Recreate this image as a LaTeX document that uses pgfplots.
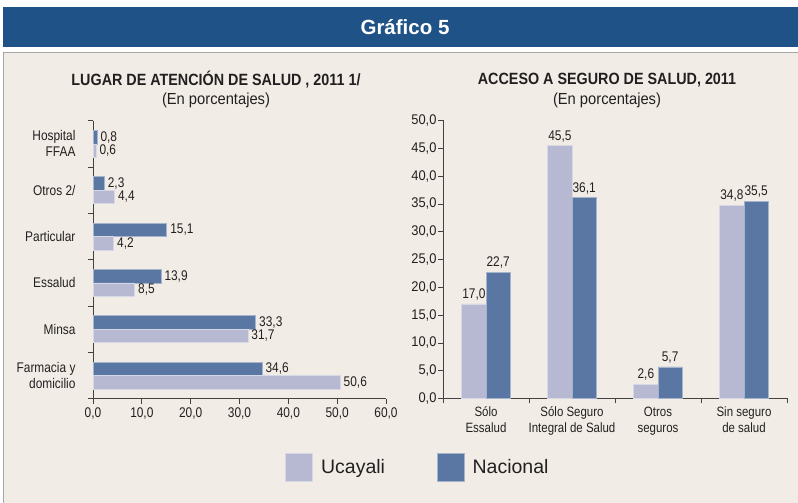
\documentclass[border=0pt]{standalone}
\usepackage{pgfplots}
\pgfplotsset{compat=1.18}
\usepackage{fontspec}
\setmainfont{Liberation Sans}
\newfontfamily\narrow{Liberation Sans}[FakeStretch=0.85]
\newfontfamily\narrowt{Liberation Sans}[FakeStretch=0.88]
\newfontfamily\narrows{Liberation Sans}[FakeStretch=0.92]
\definecolor{uca}{HTML}{B7B8D1}
\definecolor{nac}{HTML}{5A77A4}
\definecolor{hdr}{HTML}{1F5286}
\definecolor{bg}{HTML}{F1EDE6}
\definecolor{txt}{HTML}{231F20}
\pgfkeys{/pgf/number format/.cd, use comma, fixed, fixed zerofill, precision=1, assume math mode=true}
\pgfplotsset{
  common/.style={
    scale only axis,
    tick label style={font=\narrow\fontsize{14}{16}\selectfont, text=txt},
    axis line style={draw=txt!85, line width=0.7pt},
    tick style={draw=txt!85, line width=0.7pt},
    tick align=outside,
    major tick length=5pt, minor tick length=5pt,
    nodes near coords,
    every node near coord/.append style={font=\narrow\fontsize{14}{16}\selectfont, text=txt},
  }
}
\begin{document}
\begin{tikzpicture}
\path[use as bounding box] (0pt,0pt) rectangle (798pt,503pt);
\fill[white] (0pt,0pt) rectangle (798pt,503pt);
\fill[hdr] (3pt,455.5pt) rectangle (798pt,496pt);
\node[white, font=\bfseries\fontsize{20.5}{24}\selectfont] at (405pt,476pt) {Gráfico 5};
\fill[bg] (3pt,0pt) rectangle (798pt,451pt);
\draw[black!35, line width=0.6pt] (3.5pt,0pt) -- (3.5pt,451pt) -- (798pt,451pt);
\node[font=\narrowt\bfseries\fontsize{16.3}{19}\selectfont, text=txt] at (216pt,423pt) {LUGAR DE ATENCIÓN DE SALUD , 2011 1/};
\node[font=\narrows\fontsize{16}{18}\selectfont, text=txt] at (216pt,403pt) {(En porcentajes)};
\node[font=\narrowt\bfseries\fontsize{16.3}{19}\selectfont, text=txt] at (607pt,423pt) {ACCESO A SEGURO DE SALUD, 2011};
\node[font=\narrows\fontsize{16}{18}\selectfont, text=txt] at (607pt,403pt) {(En porcentajes)};

\begin{axis}[common,
  at={(93pt,104.3pt)}, anchor=south west, width=293pt, height=278pt,
  xbar, bar width=13.5pt, point meta=x,
  xmin=0, xmax=60, xtick={0,10,...,60},
  ymin=-0.5, ymax=5.5, ytick={0,...,5},
  yticklabels={{Farmacia y\\domicilio},Minsa,Essalud,Particular,{Otros 2/},{Hospital\\FFAA}},
  yticklabel style={align=right, xshift=-9pt},
  major y tick style={draw=none},
  minor ytick={-0.5,0.5,1.5,2.5,3.5,4.5,5.5},
  axis x line*=bottom, axis y line*=left,
]
\addplot[fill=nac, draw=nac!55!white, line width=0.6pt, bar shift=6.75pt] coordinates {(34.6,0) (33.3,1) (13.9,2) (15.1,3) (2.3,4) (0.8,5)};
\addplot[fill=uca, draw=uca!55!white, line width=0.6pt, bar shift=-6.75pt] coordinates {(50.6,0) (31.7,1) (8.5,2) (4.2,3) (4.4,4) (0.6,5)};
\end{axis}

\begin{axis}[common,
  at={(443pt,104.5pt)}, anchor=south west, width=344pt, height=278pt,
  ybar, bar width=24.3pt,
  ymin=0, ymax=50, ytick={0,5,...,50},
  yticklabel style={xshift=2pt, font=\narrows\fontsize{14}{16}\selectfont},
  xmin=-0.5, xmax=3.5, xtick={0,1,2,3},
  xticklabels={{Sólo\\Essalud},{Sólo Seguro\\Integral de Salud},{Otros\\seguros},{Sin seguro\\de salud}},
  xticklabel style={align=center, font=\narrow\fontsize{13.5}{16}\selectfont},
  major x tick style={draw=none},
  minor xtick={-0.5,0.5,1.5,2.5,3.5},
  axis x line*=bottom, axis y line*=left,
  legend style={at={(-0.0727,-0.2457)}, anchor=center, legend columns=2, draw=none, fill=none,
    font=\fontsize{19.5}{22}\selectfont, text=txt,
    /tikz/every odd column/.append style={column sep=6pt},
    /tikz/every even column/.append style={column sep=50pt}},
  legend image code/.code={\fill[#1] (0pt,-14pt) rectangle (27pt,14pt);},
]
\addplot[fill=uca, draw=uca!55!white, line width=0.6pt, bar shift=-12.15pt] coordinates {(0,17.0) (1,45.5) (2,2.6) (3,34.8)};
\addplot[fill=nac, draw=nac!55!white, line width=0.6pt, bar shift=12.15pt] coordinates {(0,22.7) (1,36.1) (2,5.7) (3,35.5)};
\legend{Ucayali, Nacional}
\end{axis}
\end{tikzpicture}
\end{document}
